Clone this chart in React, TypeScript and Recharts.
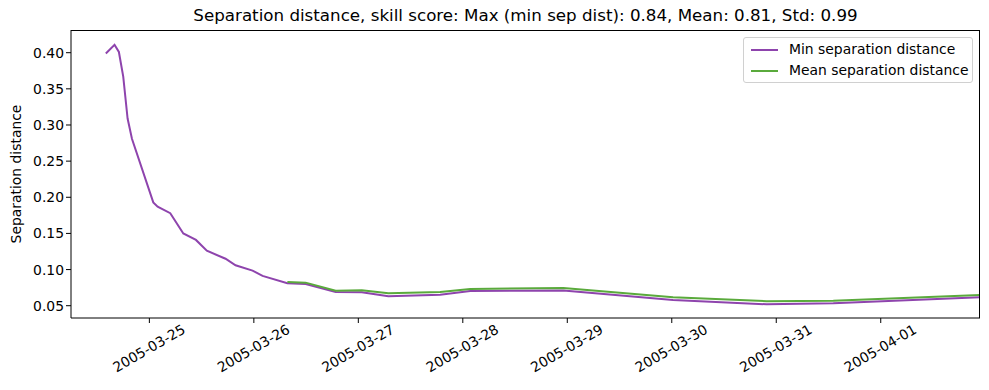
import { LineChart, Line, XAxis, YAxis } from "recharts";

// hours since 2005-03-25 00:00
const hours = [
    -10, -8, -7, -6, -5, -4, 0.9, 1.9, 4.8, 7.8, 10.7, 13.2, 17.5, 19.8, 23.7,
    26, 31.7, 35.9, 42.8, 48.8, 54.9, 66.8, 73.7, 95.1, 120.3, 141.8, 157.1,
    190.8,
];

const minSep = [
    0.399, 0.411, 0.401, 0.367, 0.309, 0.281, 0.193, 0.187, 0.178, 0.15, 0.141,
    0.126, 0.115, 0.106, 0.0985, 0.0912, 0.0811, 0.08, 0.069, 0.0686, 0.0631,
    0.0653, 0.0704, 0.0709, 0.058, 0.052, 0.0534, 0.0617,
];

const meanSep = [
    null, null, null, null, null, null, null, null, null, null, null, null,
    null, null, null, null, 0.0829, 0.0819, 0.0708, 0.0714, 0.0672, 0.0691,
    0.0732, 0.0746, 0.0617, 0.0562, 0.057, 0.0649,
];

const dayTicks = [0, 24, 48, 72, 96, 120, 144, 168];
const dayLabels = [
    "2005-03-25",
    "2005-03-26",
    "2005-03-27",
    "2005-03-28",
    "2005-03-29",
    "2005-03-30",
    "2005-03-31",
    "2005-04-01",
];
const yTicks = [0.05, 0.1, 0.15, 0.2, 0.25, 0.3, 0.35, 0.4];

const data = hours.map((h, i) => ({ h, min: minSep[i], mean: meanSep[i] }));

const font = "DejaVu Sans, sans-serif";
const purple = "#8e44ad";
const green = "#5aaa3c";
const fs = 13.9;

const DateTick = (props: any) => {
    const { x, y, payload } = props;
    const label = dayLabels[dayTicks.indexOf(payload.value)];
    return (
        <g transform={`translate(${x},${y + 24})`}>
            <text
                transform="rotate(-30)"
                textAnchor="middle"
                dominantBaseline="middle"
                fontSize={fs}
                fontFamily={font}
                fill="#000"
            >
                {label}
            </text>
        </g>
    );
};

const legendItems = [
    ["Min separation distance", purple],
    ["Mean separation distance", green],
];

export default function App() {
    return (
        <div
            style={{
                position: "absolute",
                left: 0,
                top: 0,
                width: 989,
                height: 390,
                background: "#fff",
            }}
        >
            <div
                style={{
                    position: "absolute",
                    left: 71,
                    width: 909,
                    top: 5,
                    textAlign: "center",
                    fontFamily: font,
                    fontSize: 16.7,
                }}
            >
                Separation distance, skill score: Max (min sep dist): 0.84, Mean:
                0.81, Std: 0.99
            </div>
            <LineChart
                width={989}
                height={390}
                data={data}
                margin={{ top: 30, right: 9, bottom: 0, left: 0 }}
            >
                <XAxis
                    dataKey="h"
                    type="number"
                    domain={[-18, 190.8]}
                    allowDataOverflow
                    ticks={dayTicks}
                    tick={<DateTick />}
                    tickSize={5}
                    height={72}
                    stroke="#000"
                    interval={0}
                />
                <YAxis
                    type="number"
                    domain={[0.033, 0.4314]}
                    allowDataOverflow
                    ticks={yTicks}
                    tickFormatter={(v: number) => v.toFixed(2)}
                    tickSize={5}
                    width={71}
                    stroke="#000"
                    tick={{ fill: "#000", fontSize: fs, fontFamily: font }}
                    interval={0}
                    label={{
                        value: "Separation distance",
                        angle: -90,
                        position: "insideLeft",
                        offset: 16,
                        style: {
                            textAnchor: "middle",
                            fontSize: fs,
                            fontFamily: font,
                            fill: "#000",
                        },
                    }}
                />
                <Line
                    type="linear"
                    dataKey="min"
                    name="Min separation distance"
                    stroke={purple}
                    strokeWidth={2}
                    dot={false}
                    isAnimationActive={false}
                />
                <Line
                    type="linear"
                    dataKey="mean"
                    name="Mean separation distance"
                    stroke={green}
                    strokeWidth={2}
                    dot={false}
                    isAnimationActive={false}
                />
            </LineChart>
            {/* axes frame (top and right spines) */}
            <div
                style={{
                    position: "absolute",
                    left: 71,
                    top: 30,
                    width: 909,
                    height: 288,
                    borderTop: "1px solid #000",
                    borderRight: "1px solid #000",
                    boxSizing: "border-box",
                    pointerEvents: "none",
                }}
            />
            <div
                style={{
                    position: "absolute",
                    left: 743,
                    top: 37,
                    width: 230,
                    height: 46,
                    boxSizing: "border-box",
                    border: "1px solid #d0d0d0",
                    borderRadius: 3,
                    background: "#fff",
                    padding: "1px 0 0 7px",
                    fontFamily: font,
                    fontSize: fs,
                    lineHeight: "21px",
                }}
            >
                {legendItems.map(([name, color]) => (
                    <div key={name} style={{ display: "flex", alignItems: "center" }}>
                        <span
                            style={{
                                display: "inline-block",
                                width: 27,
                                height: 2,
                                background: color,
                                marginRight: 11,
                            }}
                        />
                        {name}
                    </div>
                ))}
            </div>
        </div>
    );
}
